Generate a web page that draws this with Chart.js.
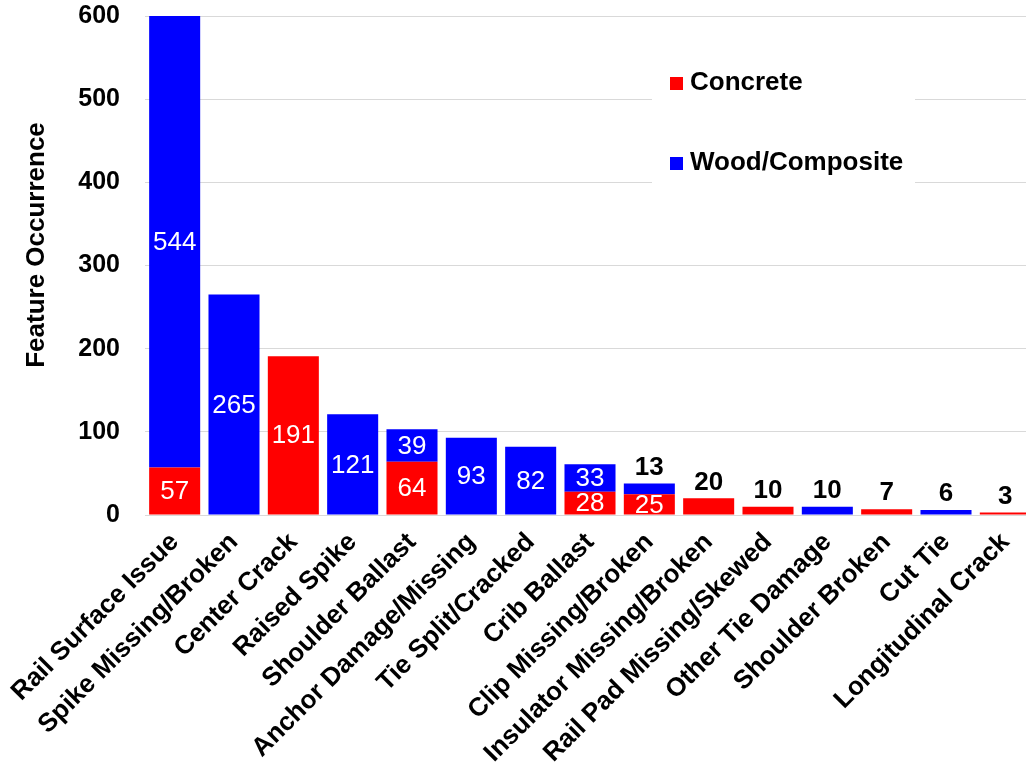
<!DOCTYPE html>
<html>
<head>
<meta charset="utf-8">
<script src="https://cdn.jsdelivr.net/npm/chart.js@4/dist/chart.umd.min.js"></script>
<style>
  html, body { margin: 0; padding: 0; background: #fff; overflow: hidden; }
  #wrap { width: 1035px; height: 793px; margin-top: -24px; }
</style>
</head>
<body>
<div id="wrap"><canvas id="grafico"></canvas></div>
<script>
// categorias e contagens por tipo de dormente
const categorias = ["Rail Surface Issue", "Spike Missing/Broken", "Center Crack", "Raised Spike",
    "Shoulder Ballast", "Anchor Damage/Missing", "Tie Split/Cracked", "Crib Ballast",
    "Clip Missing/Broken", "Insulator Missing/Broken", "Rail Pad Missing/Skewed",
    "Other Tie Damage", "Shoulder Broken", "Cut Tie", "Longitudinal Crack"];
const concreto = [57, 0, 191, 0, 64, 0, 0, 28, 25, 20, 10, 0, 7, 0, 3];
const madeira = [544, 265, 0, 121, 39, 93, 82, 33, 13, 0, 0, 10, 0, 6, 0];
const ticksY = [0, 100, 200, 300, 400, 500, 600];

const FONTE = "'Liberation Sans', Arial, sans-serif";
const DESLOC = 24; // o canvas começa 24px acima da janela

// rótulos dos valores: brancos dentro da barra, pretos em cima quando o segmento é pequeno
const rotulosPlugin = {
    id: 'rotulos',
    afterDatasetsDraw(chart) {
        const ctx = chart.ctx;
        const area = chart.chartArea;
        ctx.save();
        ctx.textAlign = 'center';
        chart.data.datasets.forEach((ds, i) => {
            const meta = chart.getDatasetMeta(i);
            meta.data.forEach((bar, j) => {
                const v = ds.data[j];
                if (!v) return;
                if (v >= 25) {
                    const topo = Math.max(bar.y, area.top);
                    ctx.fillStyle = '#fff';
                    ctx.font = `26px ${FONTE}`;
                    ctx.textBaseline = 'middle';
                    ctx.fillText(v, bar.x, (topo + bar.base) / 2 + 1);
                } else {
                    // acima do topo da pilha
                    let topo = bar.y;
                    chart.data.datasets.forEach((d2, k) => {
                        const b2 = chart.getDatasetMeta(k).data[j];
                        if (d2.data[j]) topo = Math.min(topo, b2.y);
                    });
                    ctx.fillStyle = '#000';
                    ctx.font = `bold 26px ${FONTE}`;
                    ctx.textBaseline = 'bottom';
                    ctx.fillText(v, bar.x, topo - 3);
                }
            });
        });
        ctx.restore();
    }
};

// legenda dentro da área do gráfico, com fundo branco, e título do eixo Y
const legendaPlugin = {
    id: 'legenda',
    afterDraw(chart) {
        const ctx = chart.ctx;
        ctx.save();
        ctx.fillStyle = '#fff';
        ctx.fillRect(652, 45 + DESLOC, 263, 145);
        ctx.font = `bold 26px ${FONTE}`;
        ctx.textBaseline = 'middle';
        ctx.textAlign = 'left';
        chart.data.datasets.forEach((ds, i) => {
            const y = 83 + i * 80 + DESLOC;
            ctx.fillStyle = ds.backgroundColor;
            ctx.fillRect(670, y - 6, 13, 13);
            ctx.fillStyle = '#000';
            ctx.fillText(ds.label, 690, y);
        });

        // título do eixo Y
        ctx.translate(37, 245 + DESLOC);
        ctx.rotate(-Math.PI / 2);
        ctx.textAlign = 'center';
        ctx.fillStyle = '#000';
        ctx.font = `bold 26px ${FONTE}`;
        ctx.fillText('Feature Occurrence', 0, 0);
        ctx.restore();
    }
};

new Chart(document.getElementById('grafico'), {
    type: 'bar',
    data: {
        labels: categorias,
        datasets: [
            { label: 'Concrete', data: concreto, backgroundColor: '#ff0000' },
            { label: 'Wood/Composite', data: madeira, backgroundColor: '#0000ff' }
        ]
    },
    options: {
        responsive: true,
        maintainAspectRatio: false,
        animation: false,
        devicePixelRatio: 1,
        layout: { padding: { top: 16, right: 0, left: 0, bottom: 0 } },
        datasets: { bar: { barPercentage: 0.86, categoryPercentage: 1 } },
        plugins: {
            legend: { display: false },
            tooltip: { enabled: false }
        },
        scales: {
            x: {
                stacked: true,
                grid: { display: false },
                border: { display: false },
                ticks: {
                    autoSkip: false,
                    maxRotation: 45,
                    minRotation: 45,
                    color: '#000',
                    font: { family: FONTE, size: 26, weight: 'bold' },
                    padding: 4
                },
                afterFit(scale) { scale.height = 254; }
            },
            y: {
                stacked: true,
                min: 0,
                max: 600,
                afterBuildTicks(scale) { scale.ticks = ticksY.map(v => ({ value: v })); },
                grid: { color: '#d9d9d9', lineWidth: 1, drawTicks: false },
                border: { display: false },
                ticks: {
                    color: '#000',
                    font: { family: FONTE, size: 25, weight: 'bold' },
                    padding: 25
                },
                afterFit(scale) { scale.width = 145; }
            }
        }
    },
    plugins: [rotulosPlugin, legendaPlugin]
});
</script>
</body>
</html>
